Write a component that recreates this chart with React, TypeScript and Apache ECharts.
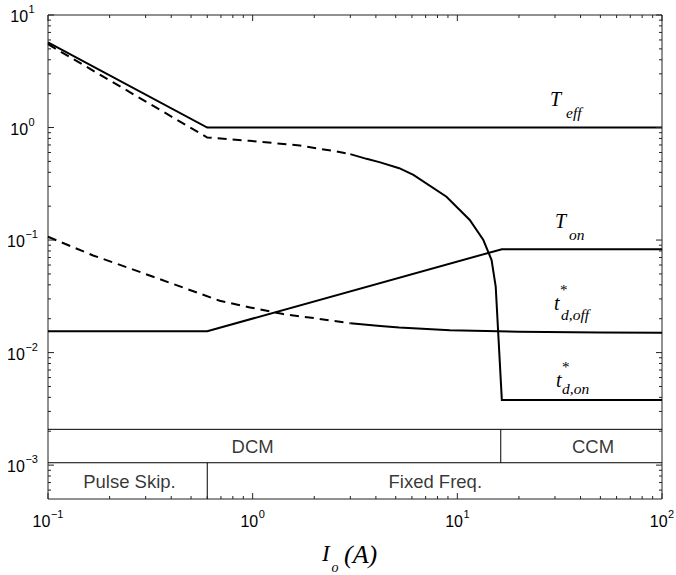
import React, { useEffect, useRef } from "react";
import * as echarts from "echarts";

// Axis extents (load current in A, normalised times)
const xRange = [0.1, 100];
const yRange = [5e-4, 10];

// Decade tick labels, drawn as 10^k
const xTickPowers = [-1, 0, 1, 2];
const yTickPowers = [-3, -2, -1, 0, 1];
const minorSteps = [2, 3, 4, 5, 6, 7, 8, 9];

// Effective switching period
const tEff: number[][] = [[0.1, 5.7], [0.6, 1.0], [100, 1.0]];
// On-time
const tOn: number[][] = [[0.1, 0.0155], [0.6, 0.0155], [16.5, 0.083], [100, 0.083]];
// Turn-off dead time: dashed below 3 A, solid above
const tdOffLight: number[][] = [
  [0.1, 0.107], [0.166, 0.073], [0.251, 0.0561], [0.4, 0.0413], [0.69, 0.0289],
  [0.97, 0.0252], [1.41, 0.022], [2.05, 0.0201], [3.0, 0.0182],
];
const tdOffHeavy: number[][] = [
  [3.0, 0.0182], [4.2, 0.0172], [5.2, 0.0167], [9.2, 0.0158], [20, 0.0153], [50, 0.0151], [100, 0.015],
];
// Turn-on dead time: dashed below 3 A, solid above
const tdOnLight: number[][] = [
  [0.1, 5.5], [0.6, 0.815], [0.97, 0.762], [1.7, 0.692], [2.57, 0.612], [3.0, 0.58],
];
const tdOnHeavy: number[][] = [
  [3.0, 0.58], [3.6, 0.527], [4.2, 0.49], [5.2, 0.435], [6.1, 0.379], [8.85, 0.243],
  [11.5, 0.151], [13.4, 0.1], [14.7, 0.0665], [15.4, 0.0385], [16.5, 0.0038], [100, 0.0038],
];

// Operating-mode table at the bottom of the plot
const modeRowTop = 2.08e-3;
const modeRowMid = 1.05e-3;
const dcmCcmEdge = 16.3;
const skipFixedEdge = 0.6;
const modeNames = ["DCM", "CCM", "Pulse Skip.", "Fixed Freq."];
const modeNameX = [1.0, 46, 0.25, 7.8];
const modeNameY = [1.47e-3, 1.47e-3, 7.2e-4, 7.2e-4];

const SANS = '"Liberation Sans", Arial, Helvetica, sans-serif';
const SERIF = '"Liberation Serif", "Times New Roman", Times, serif';

const sup = (k: number) => (k < 0 ? "\u2212" + Math.abs(k) : String(k));

function curve(name: string, data: number[][], dashed: boolean, width = 2) {
  return {
    name,
    type: "line",
    data,
    symbol: "none",
    showSymbol: false,
    silent: true,
    smooth: false,
    animation: false,
    emphasis: { disabled: true },
    lineStyle: { color: "#000", width, type: dashed ? [9, 6] : "solid", cap: "butt", join: "miter" },
    z: 3,
  };
}

let measureCtx: CanvasRenderingContext2D | null = null;
function textWidth(text: string, font: string) {
  if (!measureCtx) measureCtx = document.createElement("canvas").getContext("2d");
  if (!measureCtx) return text.length * 8;
  measureCtx.font = font;
  return measureCtx.measureText(text).width;
}

const fontOf = (size: number, family: string, italic: boolean) =>
  `${italic ? "italic " : ""}${size}px ${family}`;

export default function App() {
  const ref = useRef<HTMLDivElement>(null);

  useEffect(() => {
    const el = ref.current;
    if (!el) return;
    const chart = echarts.init(el, undefined, { renderer: "svg" });

    const hiddenAxis = (range: number[]) => ({
      type: "log",
      logBase: 10,
      min: range[0],
      max: range[1],
      axisLine: { show: false },
      axisTick: { show: false },
      axisLabel: { show: false },
      splitLine: { show: false },
      minorTick: { show: false },
    });

    chart.setOption({
      animation: false,
      backgroundColor: "#fff",
      grid: {
        left: 48,
        top: 15,
        right: 14,
        bottom: 76,
        show: true,
        borderColor: "#222",
        borderWidth: 1,
        backgroundColor: "transparent",
      },
      xAxis: hiddenAxis(xRange),
      yAxis: hiddenAxis(yRange),
      series: [
        curve("Teff", tEff, false),
        curve("Ton", tOn, false),
        curve("tdoff-light", tdOffLight, true),
        curve("tdoff-heavy", tdOffHeavy, false),
        curve("tdon-light", tdOnLight, true),
        curve("tdon-heavy", tdOnHeavy, false),
        curve("mode-top", [[xRange[0], modeRowTop], [xRange[1], modeRowTop]], false, 1),
        curve("mode-mid", [[xRange[0], modeRowMid], [xRange[1], modeRowMid]], false, 1),
        curve("mode-ccm", [[dcmCcmEdge, modeRowMid], [dcmCcmEdge, modeRowTop]], false, 1),
        curve("mode-skip", [[skipFixedEdge, yRange[0]], [skipFixedEdge, modeRowMid]], false, 1),
        {
          name: "modes",
          type: "scatter",
          silent: true,
          symbolSize: 1,
          itemStyle: { color: "transparent" },
          data: modeNames.map((n, i) => [modeNameX[i], modeNameY[i], n]),
          label: {
            show: true,
            position: "inside",
            formatter: (p: any) => p.data[2],
            color: "#000",
            fontSize: 18.5,
            fontFamily: SANS,
          },
          emphasis: { disabled: true },
          z: 4,
        },
      ],
    });

    const px = (v: number) => chart.convertToPixel({ xAxisIndex: 0 }, v) as number;
    const py = (v: number) => chart.convertToPixel({ yAxisIndex: 0 }, v) as number;
    const xL = px(xRange[0]);
    const xR = px(xRange[1]);
    const yT = py(yRange[1]);
    const yB = py(yRange[0]);

    const els: any[] = [];
    const seg = (x1: number, y1: number, x2: number, y2: number) =>
      els.push({
        type: "line",
        silent: true,
        z: 10,
        shape: { x1, y1, x2, y2 },
        style: { stroke: "#222", lineWidth: 1 },
      });

    const eps = 1e-9;
    // ticks on all four sides, pointing inward
    for (const k of [-1, 0, 1, 2]) {
      for (const m of [1, ...minorSteps]) {
        const v = m * Math.pow(10, k);
        if (v < xRange[0] * (1 - eps) || v > xRange[1] * (1 + eps)) continue;
        const len = m === 1 ? 6 : 3;
        const x = px(v);
        seg(x, yB, x, yB - len);
        seg(x, yT, x, yT + len);
      }
    }
    for (const k of [-4, -3, -2, -1, 0, 1]) {
      for (const m of [1, ...minorSteps]) {
        const v = m * Math.pow(10, k);
        if (v < yRange[0] * (1 + 1e-6) || v > yRange[1] * (1 + eps)) continue;
        const len = m === 1 ? 6 : 3;
        const y = py(v);
        seg(xL, y, xL + len, y);
        seg(xR, y, xR - len, y);
      }
    }

    const txt = (text: string, x: number, y: number, size: number, family = SERIF, italic = true) =>
      els.push({
        type: "text",
        silent: true,
        z: 10,
        x,
        y,
        style: {
          text,
          fill: "#000",
          font: fontOf(size, family, italic),
          fontSize: size,
          fontFamily: family,
          fontStyle: italic ? "italic" : "normal",
          align: "left",
          verticalAlign: "middle",
          textAlign: "left",
          textVerticalAlign: "middle",
        },
      });

    // "10" with a raised exponent, centred as a whole on cx
    const BASE = 16;
    const EXP = 11;
    const powerLabel = (k: number, cx: number, cy: number) => {
      const e = sup(k);
      const w1 = textWidth("10", fontOf(BASE, SANS, false));
      const w2 = textWidth(e, fontOf(EXP, SANS, false));
      const left = cx - (w1 + w2 + 0.5) / 2;
      txt("10", left, cy, BASE, SANS, false);
      txt(e, left + w1 + 0.5, cy - 7.5, EXP, SANS, false);
    };
    for (const k of xTickPowers) powerLabel(k, px(Math.pow(10, k)), yB + 22);
    for (const k of yTickPowers) powerLabel(k, 22.5, py(Math.pow(10, k)) + 1.5);

    // curve names
    txt("T", 550, 98.5, 20);
    txt("eff", 566, 112, 15.5);
    txt("T", 555, 221, 20);
    txt("on", 569, 234, 15.5);
    txt("t", 554, 303, 20);
    txt("*", 560, 290, 15, SERIF, false);
    txt("d,off", 561, 314, 15.5);
    txt("t", 556, 380, 20);
    txt("*", 562, 367, 15, SERIF, false);
    txt("d,on", 562, 388, 15.5);

    // x-axis title
    txt("I", 322, 553.5, 23);
    txt("o", 331.5, 567.5, 14);
    txt("(A)", 344, 554, 26);

    chart.setOption({ graphic: { elements: els } });

    return () => chart.dispose();
  }, []);

  return (
    <div
      ref={ref}
      style={{ position: "fixed", left: 0, top: 0, width: 676, height: 575, background: "#fff" }}
    />
  );
}
